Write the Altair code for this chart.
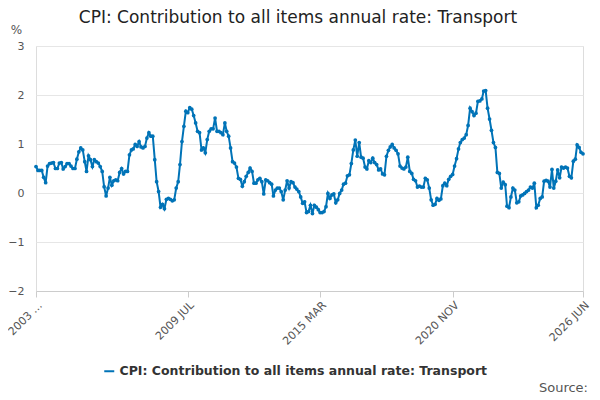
import altair as alt
import pandas as pd

start = "2003-01-01"
series_name = "CPI: Contribution to all items annual rate: Transport"

values = [
    0.54, 0.46, 0.46, 0.46, 0.32, 0.21, 0.55, 0.60, 0.61, 0.62, 0.50, 0.50,
    0.61, 0.62, 0.49, 0.54, 0.60, 0.60, 0.55, 0.50, 0.50, 0.69, 0.84, 0.92,
    0.88, 0.64, 0.44, 0.76, 0.68, 0.54, 0.68, 0.64, 0.61, 0.54, 0.44, 0.13,
    -0.06, 0.10, 0.32, 0.16, 0.25, 0.27, 0.25, 0.42, 0.50, 0.39, 0.44, 0.44,
    0.78, 0.88, 0.90, 0.99, 0.95, 1.05, 0.94, 0.92, 0.95, 1.12, 1.23, 1.16,
    1.16, 0.68, 0.23, 0.03, -0.29, -0.23, -0.32, -0.13, -0.11, -0.13, -0.16, -0.14,
    0.10, 0.23, 0.58, 1.05, 1.36, 1.67, 1.64, 1.74, 1.71, 1.58, 1.43, 1.26,
    1.23, 0.88, 0.92, 0.82, 1.09, 1.26, 1.31, 1.31, 1.53, 1.26, 1.26, 1.23,
    1.19, 1.43, 1.26, 1.16, 0.92, 0.64, 0.61, 0.53, 0.30, 0.28, 0.14, 0.23,
    0.34, 0.42, 0.51, 0.44, 0.20, 0.20, 0.27, 0.30, 0.23, -0.02, 0.27, 0.25,
    0.21, 0.18, -0.06, 0.06, 0.10, 0.10, 0.03, -0.14, 0.06, 0.25, 0.10, 0.23,
    0.21, 0.12, 0.08, 0.03, -0.08, -0.21, -0.18, -0.40, -0.38, -0.25, -0.42, -0.25,
    -0.29, -0.34, -0.40, -0.40, -0.38, -0.28, -0.01, -0.11, -0.04, -0.02, -0.20, -0.14,
    -0.01, 0.06, 0.18, 0.20, 0.35, 0.37, 0.60, 0.88, 1.08, 0.75, 1.03, 0.73,
    0.71, 0.53, 0.49, 0.66, 0.62, 0.71, 0.62, 0.58, 0.47, 0.49, 0.39, 0.37,
    0.75, 0.87, 0.94, 0.99, 0.92, 0.87, 0.80, 0.55, 0.51, 0.49, 0.53, 0.73,
    0.44, 0.40, 0.28, 0.25, 0.12, 0.14, 0.12, 0.12, 0.30, 0.27, 0.10, -0.14,
    -0.25, -0.23, -0.11, -0.15, -0.12, 0.15, 0.20, 0.15, 0.28, 0.34, 0.38, 0.55,
    0.70, 0.90, 1.03, 1.09, 1.12, 1.19, 1.38, 1.73, 1.66, 1.58, 1.63, 1.87,
    1.88, 1.92, 2.08, 2.09, 1.73, 1.51, 1.28, 1.03, 0.93, 0.42, 0.40, 0.10,
    0.22, 0.17, -0.27, -0.30, -0.08, 0.10, 0.06, -0.20, -0.18, -0.06, -0.04, -0.01,
    0.03, 0.06, 0.12, 0.10, 0.20, -0.30, -0.25, -0.11, -0.08, 0.24, 0.26, 0.24,
    0.12, 0.48, 0.10, 0.24, 0.47, 0.31, 0.53, 0.51, 0.53, 0.51, 0.34, 0.31,
    0.65, 0.69, 0.98, 0.93, 0.83, 0.80,
]

dates = pd.date_range(start, periods=len(values), freq="MS")
df = pd.DataFrame({"date": dates, "value": values, "series": series_name})

tick_dates = ["2003-01-01", "2009-07-01", "2015-03-01", "2020-11-01", "2026-06-01"]
tick_values = [alt.DateTime(year=int(d[:4]), month=int(d[5:7]), date=1) for d in tick_dates]

blue = "#0073b7"

line = alt.Chart(df).mark_line(
    color=blue, strokeWidth=2,
    point=alt.OverlayMarkDef(color=blue, size=14, filled=True),
).encode(
    x=alt.X("date:T", title=None,
            scale=alt.Scale(domain=[alt.DateTime(year=2003, month=1, date=1),
                                    alt.DateTime(year=2026, month=6, date=1)]),
            axis=alt.Axis(values=tick_values, labelAngle=-45, grid=False,
                          labelExpr="year(datum.value) == 2003 ? '2003 …' : upper(timeFormat(datum.value, '%Y %b'))",
                          labelColor="#555", labelFontSize=11, tickColor="#ccc",
                          domainColor="#ccc", labelOverlap=False, tickSize=6)),
    y=alt.Y("value:Q", title="%",
            scale=alt.Scale(domain=[-2, 3], nice=False),
            axis=alt.Axis(values=[-2, -1, 0, 1, 2, 3], domain=False, ticks=False,
                          gridColor="#e6e6e6", labelColor="#555", labelFontSize=11,
                          titleAngle=0, titleX=-20, titleY=-10, titleFontWeight="normal",
                          titleColor="#555", titleFontSize=12, labelPadding=12)),
    color=alt.Color("series:N", scale=alt.Scale(range=[blue]),
                    legend=alt.Legend(title=None, orient="none", legendX=67, legendY=319,
                                      symbolType="stroke", symbolStrokeWidth=2,
                                      labelFontSize=12.5, labelFontWeight="bold",
                                      labelColor="#333", labelLimit=500)),
)

texts = pd.DataFrame({"t": [series_name, "Source:"],
                      "kind": ["title", "source"]})

title = alt.Chart(texts).transform_filter(alt.datum.kind == "title").mark_text(
    align="center", fontSize=17, color="#222"
).encode(text="t:N", x=alt.value(262), y=alt.value(-28))

source = alt.Chart(texts).transform_filter(alt.datum.kind == "source").mark_text(
    align="right", fontSize=13, color="#555"
).encode(text="t:N", x=alt.value(552), y=alt.value(342))

chart = alt.layer(line, title, source).properties(
    width=547, height=245,
    autosize=alt.AutoSizeParams(type="none"),
    padding={"left": 28, "top": 38, "right": 9, "bottom": 101},
).configure_view(strokeWidth=0).configure(font="DejaVu Sans")

chart.save("out.html", embed_options={"renderer": "svg", "actions": False})
